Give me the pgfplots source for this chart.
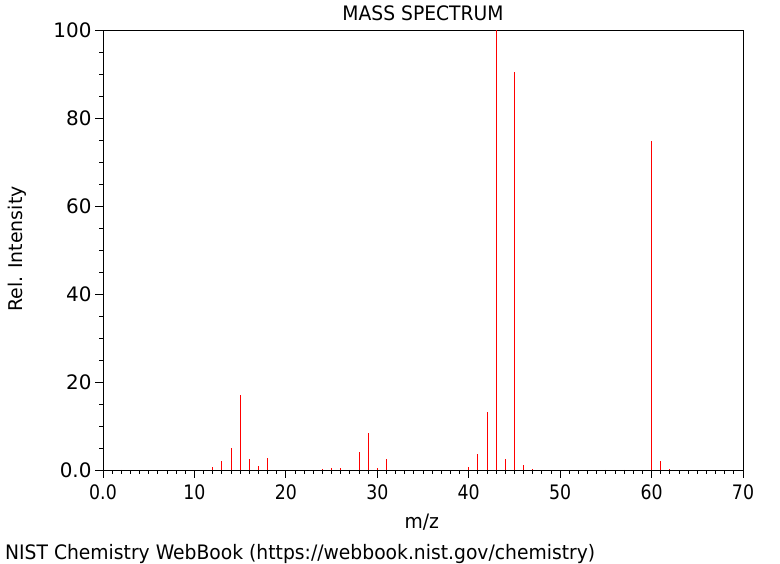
\documentclass[border=0pt]{standalone}
\usepackage{fontspec}
\setmainfont{DejaVu Sans}
\newfontfamily\condfont{DejaVu Sans}[FakeStretch=0.94]
\newfontfamily\tickfont{DejaVu Sans}[FakeStretch=0.87]
\usepackage{pgfplots}
\pgfplotsset{compat=1.18}
\begin{document}
\begin{tikzpicture}
\path[use as bounding box] (0,0) rectangle (780bp,564bp);
\begin{axis}[
  at={(103bp,94bp)}, anchor=south west,
  scale only axis, width=640bp, height=440bp,
  xmin=0, xmax=70, ymin=0, ymax=100,
  xtick={0,10,20,30,40,50,60,70},
  xticklabels={0.0,10,20,30,40,50,60,70},
  ytick={0,20,40,60,80,100},
  yticklabels={0.0,20,40,60,80,100},
  minor x tick num=9, minor y tick num=3,
  tick align=outside, tick pos=left,
  major tick length=8bp, minor tick length=4bp,
  every tick/.style={black, line width=0.8bp},
  axis line style={black, line width=0.8bp},
  xticklabel style={font=\tickfont\fontsize{20}{23}\selectfont, yshift=-3bp},
  yticklabel style={font=\fontsize{20}{23}\selectfont},
  title={\condfont MASS SPECTRUM},
  title style={font=\fontsize{20}{23}\selectfont, at={(axis description cs:0.5,1.025)}, anchor=center},
  xlabel={\condfont m/z},
  xlabel style={font=\fontsize{20}{23}\selectfont, at={(axis description cs:0.498,-0.118)}, anchor=center},
  ylabel={Rel. Intensity},
  ylabel style={font=\fontsize{19}{22}\selectfont, at={(axis description cs:-0.134,0.502)}, anchor=center, rotate=0},
  clip=true,
]
\addplot[ycomb, red, line width=1bp, mark=none] coordinates {
(2,0.1)(12,0.6)(13,2.1)(14,4.9)(15,17.0)(16,2.4)(17,0.9)(18,2.7)
(24,0.2)(25,0.45)(26,0.45)(27,0.1)(28,4.1)(29,8.5)(30,0.45)(31,2.5)
(40,0.75)(41,3.6)(42,13.2)(43,100)(44,2.5)(45,90.5)(46,1.1)(47,0.2)
(55,0.1)(57,0.1)(60,74.8)(61,2.0)(62,0.2)
};
\end{axis}
\node[anchor=west, font=\condfont\fontsize{20}{23}\selectfont, inner sep=0pt] at (5bp,10bp) {NIST Chemistry WebBook (https://webbook.nist.gov/chemistry)};
\end{tikzpicture}
\end{document}
